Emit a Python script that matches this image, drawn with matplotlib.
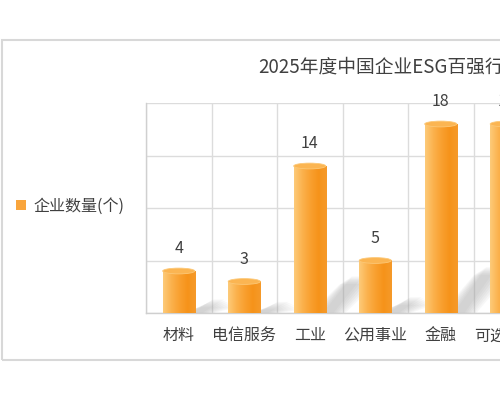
import numpy as np
import matplotlib
matplotlib.use('Agg')
import matplotlib.pyplot as plt
from matplotlib.colors import LinearSegmentedColormap
from matplotlib.patches import Ellipse, Polygon, Rectangle, Patch

plt.rcParams['font.family'] = ['Noto Sans CJK SC', 'DejaVu Sans']

TITLE = '2025年度中国企业ESG百强行业分布'
SERIES_NAME = '企业数量(个)'
categories = ['材料', '电信服务', '工业', '公用事业', '金融', '可选消费']
counts = [4, 3, 14, 5, 18, 18]

TEXT = '#404040'
GRID = '#dcdcdc'
BAR_W = 0.49

bar_cmap = LinearSegmentedColormap.from_list(
    'bar', ['#fdcb7a', '#fbb24e', '#f9a030', '#f6931a', '#f59a2a'])


def draw_cylinder(ax, x, v):
    x0, x1 = x - BAR_W / 2, x + BAR_W / 2
    # soft shadow leaning to the right
    for k in range(7):
        spread = 0.03 * k
        h = v * 0.22 + 0.4
        dx = 0.28 + v * 0.012
        pts = [(x1 - 0.05 - spread, 0), (x1 + 0.12 + spread, 0),
               (x1 + 0.12 + dx + spread, h - spread * 4),
               (x1 - 0.05 + dx - spread, h - spread * 4)]
        ax.add_patch(Polygon(pts, closed=True, facecolor='#9a9a9a',
                             alpha=0.07, edgecolor='none', zorder=2))
    grad = np.linspace(0, 1, 256).reshape(1, -1)
    ax.imshow(grad, cmap=bar_cmap, extent=[x0, x1, 0, v], aspect='auto',
              zorder=3, interpolation='bilinear')
    ax.add_patch(Ellipse((x, v), BAR_W, 0.55, facecolor='#fbb552',
                         edgecolor='#fcc877', lw=0.6, zorder=4))
    ax.annotate(str(v), (x, v), xytext=(0, 16), textcoords='offset points',
                ha='center', va='center', fontsize=11.5, color=TEXT, zorder=5)


def main():
    fig = plt.figure(figsize=(5, 4), dpi=100)
    fig.patch.set_facecolor('white')

    # outer frame
    fig.add_artist(Rectangle((0.004, 0.1), 1.2, 0.8, transform=fig.transFigure,
                             facecolor='none', edgecolor='#d8d8d8', lw=1.5))

    px_w, px_h = 500.0, 400.0
    cell = 65.5
    left, bottom, top = 146, 313, 103
    ax = fig.add_axes([left / px_w, 1 - bottom / px_h,
                       cell * len(categories) / px_w, (bottom - top) / px_h])

    xs = np.arange(len(categories))
    for x, v in zip(xs, counts):
        draw_cylinder(ax, x, v)

    ax.set_xlim(-0.5, len(categories) - 0.5)
    ax.set_ylim(0, 20)
    ax.set_yticks([0, 5, 10, 15, 20])
    ax.set_yticklabels([])
    ax.set_xticks(xs)
    ax.set_xticklabels(categories, fontsize=11.5, color=TEXT)
    ax.set_xticks(np.arange(len(categories) + 1) - 0.5, minor=True)
    ax.tick_params(axis='x', which='major', length=0, pad=10)
    ax.tick_params(axis='both', which='minor', length=0)
    ax.tick_params(axis='y', length=0)
    ax.grid(True, which='major', axis='y', color=GRID, lw=1, zorder=0)
    ax.grid(True, which='minor', axis='x', color=GRID, lw=1, zorder=0)
    ax.set_axisbelow(True)
    for name, sp in ax.spines.items():
        sp.set_color('#d0d0d0')
        sp.set_linewidth(1)
    ax.spines['top'].set_visible(False)
    ax.spines['right'].set_visible(False)
    ax.spines['bottom'].set_color('#cfcfcf')

    fig.text(258 / px_w, 1 - 67 / px_h, TITLE, ha='left', va='center',
             fontsize=13.5, color=TEXT)

    fig.legend(handles=[Patch(facecolor='#f9a53c', edgecolor='none')],
               labels=[SERIES_NAME], loc='center left',
               bbox_to_anchor=(2 / px_w, 1 - 206 / px_h), frameon=False,
               handlelength=0.6, handleheight=0.6, handletextpad=0.5,
               fontsize=11.5, labelcolor=TEXT)

    fig.savefig('out.png', dpi=100)


if __name__ == '__main__':
    main()
